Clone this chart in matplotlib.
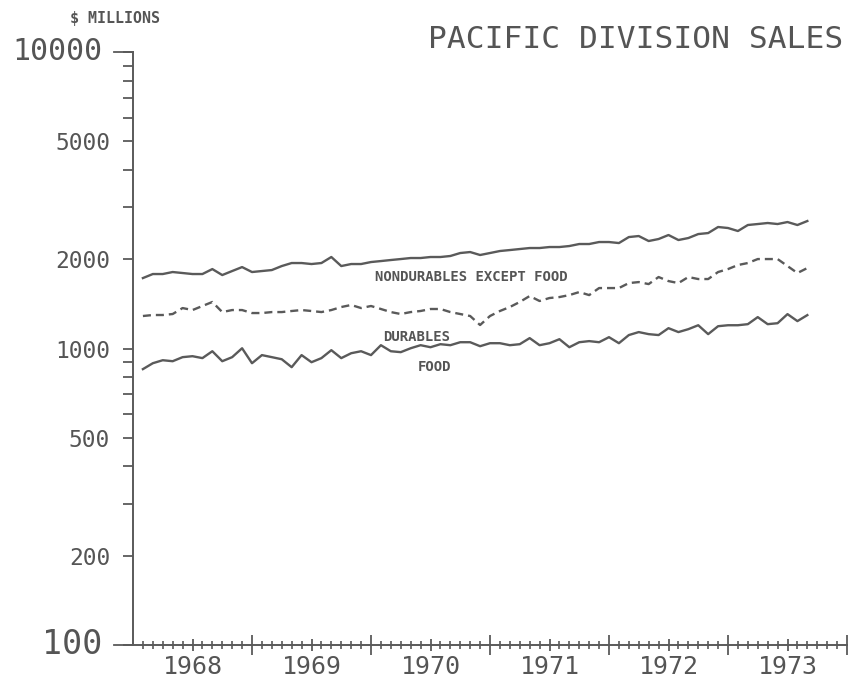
import numpy as np
import matplotlib.pyplot as plt
from matplotlib.ticker import FixedLocator, NullFormatter

# monthly sales, $ millions, Jan 1968 .. Aug 1973
months = np.arange(1, 69)
t = 1968 + months / 12

nondurables = [1728, 1783, 1783, 1811, 1797, 1783, 1783, 1853, 1769, 1825, 1882, 1811,
               1825, 1839, 1897, 1942, 1942, 1927, 1942, 2035, 1897, 1927, 1927, 1957,
               1972, 1988, 2003, 2019, 2019, 2035, 2035, 2051, 2099, 2115, 2067, 2099,
               2132, 2148, 2165, 2182, 2182, 2199, 2199, 2216, 2251, 2251, 2286, 2286,
               2268, 2376, 2395, 2304, 2340, 2414, 2322, 2358, 2432, 2451, 2569, 2549,
               2490, 2609, 2629, 2650, 2629, 2670, 2609, 2691]
durables = [1287, 1297, 1297, 1307, 1369, 1348, 1391, 1435, 1327, 1348, 1348, 1317,
            1317, 1327, 1327, 1338, 1348, 1338, 1327, 1348, 1380, 1402, 1369, 1391,
            1359, 1327, 1307, 1327, 1338, 1359, 1359, 1327, 1307, 1287, 1200, 1287,
            1338, 1380, 1435, 1503, 1446, 1480, 1491, 1514, 1550, 1514, 1599, 1599,
            1599, 1662, 1675, 1649, 1742, 1688, 1662, 1742, 1715, 1715, 1811, 1853,
            1912, 1942, 2003, 2003, 2003, 1897, 1797, 1868]
food = [852, 892, 913, 906, 935, 942, 928, 979, 906, 935, 1002, 892,
        950, 935, 920, 865, 950, 899, 928, 987, 928, 964, 979, 950,
        1026, 979, 972, 1002, 1026, 1010, 1034, 1026, 1050, 1050, 1018, 1042,
        1042, 1026, 1034, 1084, 1026, 1042, 1075, 1010, 1050, 1059, 1050, 1092,
        1042, 1110, 1136, 1118, 1110, 1171, 1136, 1162, 1198, 1118, 1189, 1198,
        1198, 1208, 1276, 1208, 1217, 1306, 1237, 1296]

years = [1968, 1969, 1970, 1971, 1972, 1973]
y_major = [100, 200, 500, 1000, 2000, 5000, 10000]
y_minor = [300, 400, 600, 700, 800, 900, 3000, 4000, 6000, 7000, 8000, 9000]

c = '#5a5a5a'
tc = '#555555'
plt.rcParams['font.family'] = ['DejaVu Sans Mono']

fig = plt.figure(figsize=(8.52, 6.8), dpi=100)
ax = fig.add_axes([133/852, 35/680, 714/852, 593/680])

ax.plot(t, nondurables, color=c, lw=1.7)
ax.plot(t, durables, color=c, lw=1.7, dashes=(3.4, 2.1))
ax.plot(t, food, color=c, lw=1.7)

ax.set_yscale('log')
ax.set_ylim(100, 10000)
ax.set_xlim(1968, 1974)

for s in ['top', 'right']:
    ax.spines[s].set_visible(False)
for s in ['left', 'bottom']:
    ax.spines[s].set_color(c)
    ax.spines[s].set_linewidth(1.4)

# y axis
ax.yaxis.set_major_locator(FixedLocator(y_major))
ax.yaxis.set_minor_locator(FixedLocator(y_minor))
ax.set_yticklabels(['' if v in (100, 10000) else str(v) for v in y_major])
ax.yaxis.set_minor_formatter(NullFormatter())
ax.tick_params(axis='y', which='both', direction='out', length=7.5, width=1.3,
               color=c, labelcolor=tc, labelsize=16.5, pad=9)
for v, fs in ((100, 24), (10000, 21.5)):
    ax.plot([-0.026, 0], [v, v], color=c, lw=1.3, clip_on=False,
            transform=ax.get_yaxis_transform())
    ax.text(-0.043, v, str(v), transform=ax.get_yaxis_transform(),
            ha='right', va='center', fontsize=fs, color=tc)

# x axis: labels at mid-year, monthly minor ticks, long ticks at year boundaries
ax.set_xticks([y + 0.5 for y in years], labels=[str(y) for y in years])
ax.set_xticks([y + m / 12 for y in years for m in range(1, 12) if m != 6], minor=True)
ax.tick_params(axis='x', which='major', direction='inout', length=8.6, width=1.3,
               color=c, labelcolor=tc, labelsize=18, pad=3)
ax.tick_params(axis='x', which='minor', direction='inout', length=5.5, width=1.2, color=c)
sec = ax.secondary_xaxis('bottom')
sec.set_xticks([y + 1 for y in years], labels=['' for y in years])
sec.tick_params(direction='inout', length=14.4, width=1.3, color=c)
sec.spines['bottom'].set_visible(False)

# series labels
lab = dict(fontsize=10, fontweight='bold', color=tc, va='center', ha='left')
ax.text(1970.03, 1743, 'NONDURABLES EXCEPT FOOD', **lab)
ax.text(1970.10, 1094, 'DURABLES', **lab)
ax.text(1970.39, 866, 'FOOD', **lab)

fig.text(843/852, 1 - 40/680, 'PACIFIC DIVISION SALES', ha='right', va='center',
         fontsize=22.5, color=tc)
fig.text(115/852, 1 - 18/680, '$ MILLIONS', ha='center', va='center',
         fontsize=10.8, fontweight='bold', color=tc)

fig.savefig('out.png', dpi=100)
